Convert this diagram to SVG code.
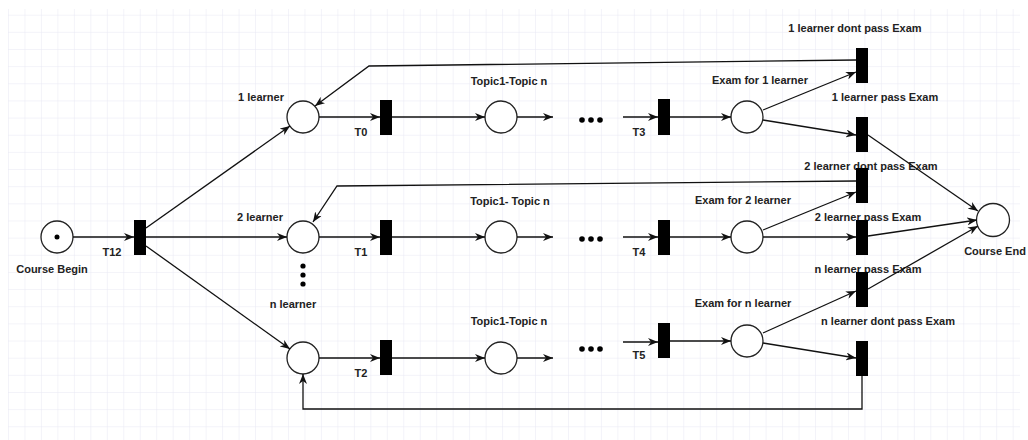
<svg xmlns="http://www.w3.org/2000/svg" width="1028" height="440" viewBox="0 0 1028 440">
<style>
.pl{fill:#fff;stroke:#222;stroke-width:1.3}
.tr{fill:#000}
.lb{font-family:"Liberation Sans",Arial,sans-serif;font-size:11px;font-weight:bold;fill:#222;text-anchor:middle}
.cn{fill:none;stroke:#111;stroke-width:1.3}
.dot{fill:#000}
</style>
<defs>
<pattern id="grid" patternUnits="userSpaceOnUse" x="8" y="14.7" width="16.47" height="17.15">
<path d="M16.47 0 L0 0 0 17.15" fill="none" stroke="#e7e7f3" stroke-width="1"/>
</pattern>
<marker id="arr" markerUnits="userSpaceOnUse" markerWidth="10" markerHeight="8" refX="10" refY="4" orient="auto">
<path d="M0,0 L10,4 L0,8 L3,4 Z" fill="#111"/>
</marker>
</defs>
<rect x="0" y="0" width="1028" height="440" fill="#fff"/>
<rect x="8" y="9" width="1012" height="431" fill="url(#grid)"/>

<g id="course-begin"><circle class="pl" cx="57" cy="237" r="16"/><circle class="dot" cx="57" cy="237" r="2.5"/><text class="lb" x="52" y="273">Course Begin</text></g>
<g id="T12"><text class="lb" x="112" y="256">T12</text><rect class="tr" x="134" y="220" width="12" height="35"/></g>

<g id="learner1"><circle class="pl" cx="303" cy="117" r="16"/><text class="lb" x="261" y="101">1 learner</text></g>
<g id="learner2"><circle class="pl" cx="303" cy="237" r="16"/><text class="lb" x="260" y="221">2 learner</text></g>
<g id="learnern"><circle class="pl" cx="303" cy="358" r="16"/><text class="lb" x="293" y="308">n learner</text></g>
<g id="vdots"><circle class="dot" cx="303" cy="266" r="2.6"/><circle class="dot" cx="303" cy="275" r="2.6"/><circle class="dot" cx="303" cy="284" r="2.6"/></g>

<g id="T0"><text class="lb" x="361" y="136">T0</text><rect class="tr" x="380" y="100" width="12" height="35"/></g>
<g id="T1"><text class="lb" x="361" y="256">T1</text><rect class="tr" x="380" y="220" width="12" height="35"/></g>
<g id="T2"><text class="lb" x="361" y="377">T2</text><rect class="tr" x="380" y="340" width="12" height="35"/></g>

<g id="topic1"><circle class="pl" cx="501" cy="117" r="16"/><text class="lb" x="509" y="85">Topic1-Topic n</text></g>
<g id="topic2"><circle class="pl" cx="501" cy="237" r="16"/><text class="lb" x="510" y="205">Topic1- Topic n</text></g>
<g id="topicn"><circle class="pl" cx="501" cy="358" r="16"/><text class="lb" x="509" y="325">Topic1-Topic n</text></g>

<g id="hdots1"><circle class="dot" cx="582" cy="120" r="2.8"/><circle class="dot" cx="591" cy="120" r="2.8"/><circle class="dot" cx="600" cy="120" r="2.8"/></g>
<g id="hdots2"><circle class="dot" cx="582" cy="239" r="2.8"/><circle class="dot" cx="591" cy="239" r="2.8"/><circle class="dot" cx="600" cy="239" r="2.8"/></g>
<g id="hdotsn"><circle class="dot" cx="582" cy="349" r="2.8"/><circle class="dot" cx="591" cy="349" r="2.8"/><circle class="dot" cx="600" cy="349" r="2.8"/></g>

<g id="T3"><text class="lb" x="639" y="136">T3</text><rect class="tr" x="658" y="99" width="12" height="36"/></g>
<g id="T4"><text class="lb" x="639" y="256">T4</text><rect class="tr" x="658" y="220" width="12" height="35"/></g>
<g id="T5"><text class="lb" x="639" y="359">T5</text><rect class="tr" x="658" y="323" width="12" height="35"/></g>

<g id="exam1"><circle class="pl" cx="747" cy="117" r="16"/><text class="lb" x="760" y="84">Exam for 1 learner</text></g>
<g id="exam2"><circle class="pl" cx="747" cy="237" r="16"/><text class="lb" x="743" y="204">Exam for 2 learner</text></g>
<g id="examn"><circle class="pl" cx="747" cy="341" r="16"/><text class="lb" x="743" y="307">Exam for n learner</text></g>

<g id="l1-dont-pass"><text class="lb" x="855" y="32">1 learner dont pass Exam</text><rect class="tr" x="856" y="48" width="12" height="35"/></g>
<g id="l1-pass"><text class="lb" x="885" y="101">1 learner pass Exam</text><rect class="tr" x="856" y="117" width="12" height="35"/></g>
<g id="l2-dont-pass"><text class="lb" x="871" y="170">2 learner dont pass Exam</text><rect class="tr" x="856" y="168" width="12" height="35"/></g>
<g id="l2-pass"><text class="lb" x="868" y="221">2 learner pass Exam</text><rect class="tr" x="856" y="220" width="12" height="35"/></g>
<g id="ln-pass"><text class="lb" x="868" y="273">n learner pass Exam</text><rect class="tr" x="856" y="272" width="12" height="35"/></g>
<g id="ln-dont-pass"><text class="lb" x="888" y="325">n learner dont pass Exam</text><rect class="tr" x="856" y="341" width="12" height="35"/></g>

<g id="course-end"><circle class="pl" cx="993" cy="220" r="16.5"/><text class="lb" x="995" y="255">Course End</text></g>

<g id="connectors">
<path class="cn" d="M73 237 L134 237" marker-end="url(#arr)"/>
<path class="cn" d="M146 228 L290 126" marker-end="url(#arr)"/>
<path class="cn" d="M146 237 L287 237" marker-end="url(#arr)"/>
<path class="cn" d="M146 246 L290 349" marker-end="url(#arr)"/>

<path class="cn" d="M319 117 L380 117" marker-end="url(#arr)"/>
<path class="cn" d="M392 117 L485 117" marker-end="url(#arr)"/>
<path class="cn" d="M517 117 L553 117" marker-end="url(#arr)"/>
<path class="cn" d="M623 117 L658 117" marker-end="url(#arr)"/>
<path class="cn" d="M670 117 L731 117" marker-end="url(#arr)"/>

<path class="cn" d="M319 237 L380 237" marker-end="url(#arr)"/>
<path class="cn" d="M392 237 L485 237" marker-end="url(#arr)"/>
<path class="cn" d="M517 237 L553 237" marker-end="url(#arr)"/>
<path class="cn" d="M623 237 L658 237" marker-end="url(#arr)"/>
<path class="cn" d="M670 237 L731 237" marker-end="url(#arr)"/>

<path class="cn" d="M319 358 L380 358" marker-end="url(#arr)"/>
<path class="cn" d="M392 358 L485 358" marker-end="url(#arr)"/>
<path class="cn" d="M517 358 L553 358" marker-end="url(#arr)"/>
<path class="cn" d="M623 342 L658 342" marker-end="url(#arr)"/>
<path class="cn" d="M670 341 L731 341" marker-end="url(#arr)"/>

<path class="cn" d="M763 110 L856 72" marker-end="url(#arr)"/>
<path class="cn" d="M763 120 L856 135" marker-end="url(#arr)"/>
<path class="cn" d="M868 135 L978 211" marker-end="url(#arr)"/>
<path class="cn" d="M856 60 L369 66 L315 106" marker-end="url(#arr)"/>

<path class="cn" d="M763 230 L856 192" marker-end="url(#arr)"/>
<path class="cn" d="M763 237 L856 237" marker-end="url(#arr)"/>
<path class="cn" d="M868 236 L977 220" marker-end="url(#arr)"/>
<path class="cn" d="M856 181 L337 186 L313 222" marker-end="url(#arr)"/>

<path class="cn" d="M868 289 L978 226" marker-end="url(#arr)"/>
<path class="cn" d="M763 333 L856 291" marker-end="url(#arr)"/>
<path class="cn" d="M763 343 L856 358" marker-end="url(#arr)"/>
<path class="cn" d="M862 376 L862 409 L303 409 L303 374" marker-end="url(#arr)"/>
</g>
</svg>
